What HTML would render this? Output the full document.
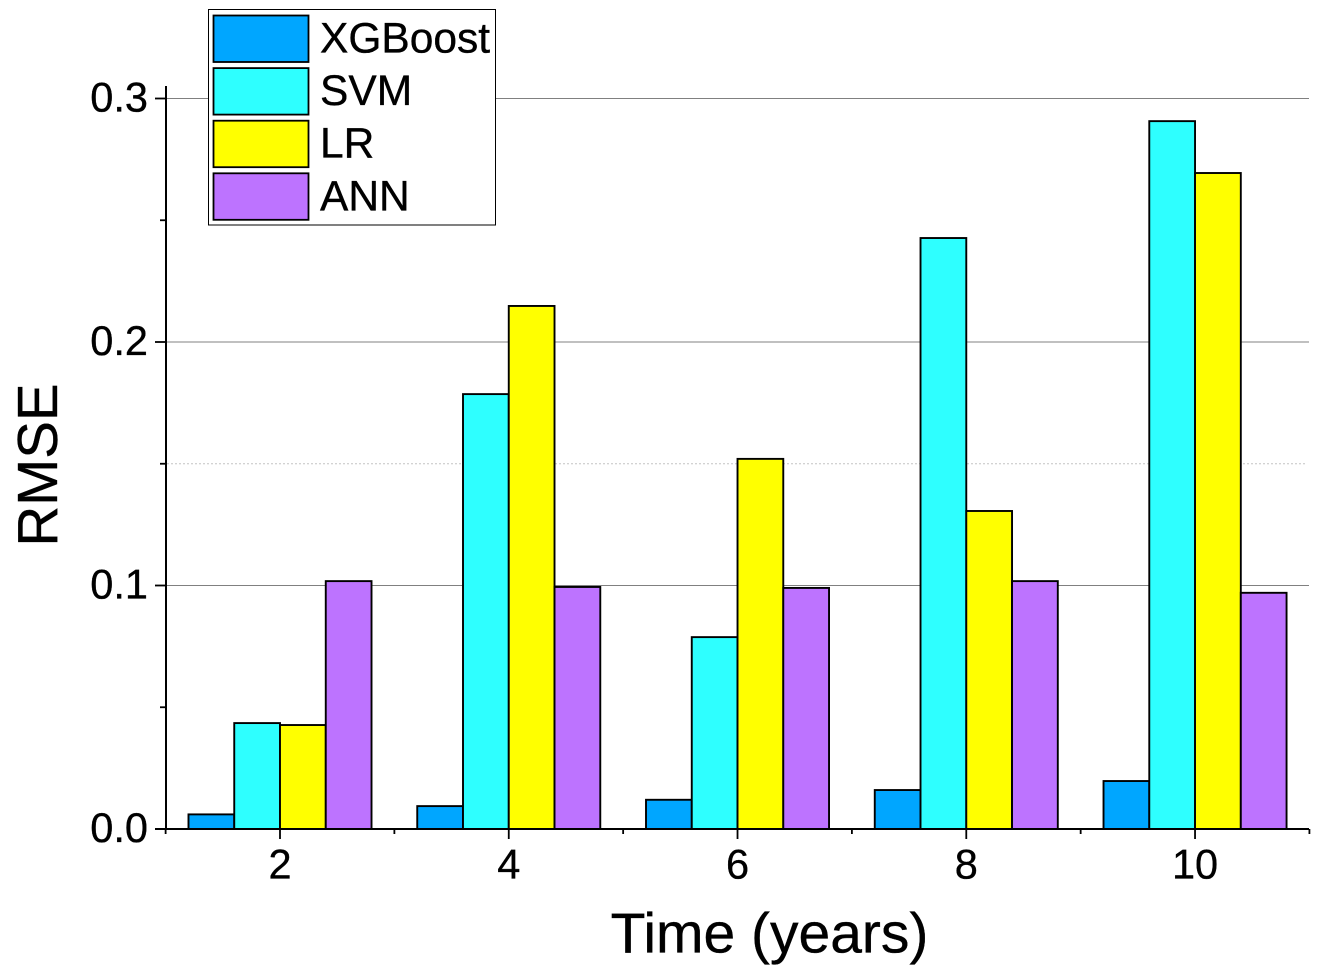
<!DOCTYPE html>
<html>
<head>
<meta charset="utf-8">
<title>RMSE over time</title>
<style>
html,body{margin:0;padding:0;background:#fff;}
svg{display:block;}
text{font-family:"Liberation Sans",Arial,sans-serif;fill:#000;stroke:#000;stroke-width:0.35px;}
</style>
</head>
<body>
<svg id="chart" width="1322" height="979" viewBox="0 0 1322 979" xmlns="http://www.w3.org/2000/svg"></svg>
<script>
const categories = [2, 4, 6, 8, 10];
const seriesNames = ['XGBoost', 'SVM', 'LR', 'ANN'];
const xgboostValues = [0.006, 0.0094, 0.012, 0.016, 0.0197];
const svmValues = [0.0435, 0.1786, 0.0788, 0.2427, 0.2907];
const lrValues = [0.0427, 0.2148, 0.152, 0.1306, 0.2694];
const annValues = [0.1018, 0.0994, 0.099, 0.1018, 0.097];
const seriesColors = ['#00a6ff', '#2effff', '#ffff00', '#bd73ff'];
const yTickLabels = ['0.0', '0.1', '0.2', '0.3'];
const yMinorTicks = [0.05, 0.15, 0.25];
const xMinorTicks = [1, 3, 5, 7, 9, 11];

const allSeries = [xgboostValues, svmValues, lrValues, annValues];
const svg = document.getElementById('chart');
const NS = 'http://www.w3.org/2000/svg';

function xScale(v) { return 280 + (v - 2) * 114.38; }
function yScale(v) { return 829 - v * 2435; }
const barWidth = 45.76;

function make(tag, attrs, text) {
  const el = document.createElementNS(NS, tag);
  for (const k in attrs) el.setAttribute(k, attrs[k]);
  if (text !== undefined) el.textContent = text;
  svg.appendChild(el);
  return el;
}
let el;

// gridlines
yTickLabels.forEach(function (label) {
  const v = parseFloat(label);
  if (v === 0) return;
  el = make('line', { x1: 167, x2: 1309, y1: yScale(v), y2: yScale(v), stroke: '#808080', 'stroke-width': 1 });
  
  
});
el = make('line', { x1: 167, x2: 1307, y1: yScale(yMinorTicks[1]) , y2: yScale(yMinorTicks[1]), stroke: '#c4c4c4', 'stroke-width': 1, 'stroke-dasharray': '2 2' });



// bars
allSeries.forEach(function (values, s) {
  values.forEach(function (v, i) {
    const left = xScale(categories[i]) + (s - 2) * barWidth;
    const top = yScale(v);
    el = make('rect', { x: left, y: top, width: barWidth, height: yScale(0) - top, fill: seriesColors[s], stroke: '#000', 'stroke-width': 1.9 });
    
    
  });
});

// axes
el = make('line', { x1: 166, x2: 166, y1: 86, y2: 830, stroke: '#000', 'stroke-width': 2 });


el = make('line', { x1: 155, x2: 1309, y1: 829, y2: 829, stroke: '#000', 'stroke-width': 2 });



// y ticks and labels
yTickLabels.forEach(function (label) {
  const v = parseFloat(label);
  el = make('line', { x1: 155, x2: 166, y1: yScale(v), y2: yScale(v), stroke: '#000', 'stroke-width': 1.8 });
  
  
  el = make('text', { x: 148, y: yScale(v) + 13, 'font-size': 41.5, 'text-anchor': 'end' }, label);
  
  
});
yMinorTicks.forEach(function (v) {
  el = make('line', { x1: 160, x2: 166, y1: yScale(v), y2: yScale(v), stroke: '#000', 'stroke-width': 1.8 });
  
  
});

// x ticks and labels
categories.forEach(function (c) {
  el = make('line', { x1: xScale(c), x2: xScale(c), y1: 829, y2: 839, stroke: '#000', 'stroke-width': 1.8 });
  
  
  el = make('text', { x: xScale(c), y: 878.5, 'font-size': 41.5, 'text-anchor': 'middle' }, String(c));
  
  
});
xMinorTicks.forEach(function (v) {
  el = make('line', { x1: xScale(v), x2: xScale(v), y1: 829, y2: 834, stroke: '#000', 'stroke-width': 1.8 });
  
  
});

// axis titles
el = make('text', { x: 769.5, y: 952.5, 'font-size': 57, 'text-anchor': 'middle' }, 'Time (years)');


el = make('text', { x: 0, y: 0, 'font-size': 56.5, 'text-anchor': 'middle', transform: 'translate(57 465) rotate(-90)' }, 'RMSE');



// legend
el = make('rect', { x: 208.5, y: 9.5, width: 287, height: 215.5, fill: '#fff', stroke: '#000', 'stroke-width': 1 });


seriesNames.forEach(function (name, i) {
  const top = 15.5 + i * 52.6;
  el = make('rect', { x: 213.5, y: top, width: 95, height: 46.5, fill: seriesColors[i], stroke: '#000', 'stroke-width': 1.8 });
  
  
  el = make('text', { x: 320, y: top + 37, 'font-size': 42.5 }, name);
  
  
});
</script>
</body>
</html>
